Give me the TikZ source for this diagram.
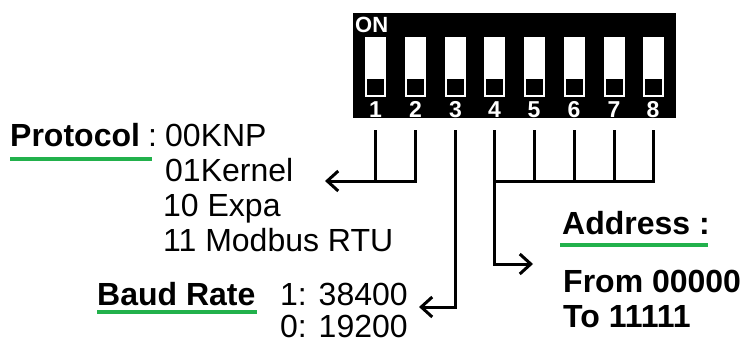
\documentclass[tikz,border=0pt]{standalone}
\usepackage{fontspec}
\setmainfont{Liberation Sans}
\usetikzlibrary{arrows.meta}
\definecolor{linegreen}{RGB}{34,177,76}

\begin{document}
\begin{tikzpicture}[x=1pt,y=-1pt,
    txt/.style={anchor=base west,inner sep=0pt,font=\fontsize{32}{35}\selectfont},
    head/.style={txt,font=\fontsize{32}{35}\selectfont\bfseries},
    swnum/.style={anchor=base,inner sep=0pt,text=white,font=\fontsize{23}{23}\selectfont\bfseries},
    wire/.style={line width=3pt},
    uline/.style={line width=4pt,draw=linegreen},
    barb/.style={-{Straight Barb[length=11pt,width=20pt]}}]
    \useasboundingbox (0,0) rectangle (740,340);

    % DIP switch body
    \fill (353,13) rectangle (676,118);
    \node[swnum,anchor=base west,font=\fontsize{22}{22}\selectfont\bfseries] (on) at (355,32) {ON};

    % Switches, numbers and wire tops
    \foreach \i/\x in {1/375.5,2/415.5,3/455.5,4/494.5,5/534,6/574,7/614,8/653}
    {
        \fill[white] (\x-10.5,37) rectangle (\x+10.5,97);
        \fill (\x-8.5,79) rectangle (\x+8.5,95);
        \node[swnum] (n\i) at (\x,117) {\i};
        \coordinate (t\i) at (\x,130);
    }

    % Bends and arrow ends
    \coordinate (j2) at (415.5,181);
    \coordinate (pa) at (325,181);
    \coordinate (ba) at (419,307);
    \coordinate (aa) at (533,264);

    % Protocol: switches 1 and 2
    \draw[wire] (t1) -- (t1 |- j2);
    \draw[wire,barb] (t2) -- (j2) -- (pa);

    % Baud rate: switch 3
    \draw[wire,barb] (t3) -- (t3 |- ba) -- (ba);

    % Address: switches 4 to 8
    \draw[wire] (t8) -- (t8 |- j2) -- (t4 |- j2);
    \foreach \i in {5,6,7}
        \draw[wire] (t\i) -- (t\i |- j2);
    \draw[wire,barb] (t4) -- (t4 |- aa) -- (aa);

    % Protocol text
    \node[head] (proto) at (10,146) {Protocol};
    \node[txt] (colon) at (148,146) {:};
    \node[txt] (knp) at (165,146) {00KNP};
    \node[txt] (kernel) at (165,181) {01Kernel};
    \node[txt] (expa) at (163,216) {10 Expa};
    \node[txt] (modbus) at (163,251) {11 Modbus RTU};
    \draw[uline] (10,159) -- (152,159);

    % Baud rate text
    \node[head] (baud) at (97,305) {Baud Rate};
    \node[txt] (b1) at (280,305) {1: 38400};
    \node[txt] (b0) at (280,337) {0: 19200};
    \draw[uline] (97,311.5) -- (257,311.5);

    % Address text
    \node[head] (addr) at (562,234) {Address :};
    \node[head] (from) at (563,292) {From 00000};
    \node[head] (to) at (563,327) {To 11111};
    \draw[uline] (560,245) -- (708,245);
\end{tikzpicture}
\end{document}
